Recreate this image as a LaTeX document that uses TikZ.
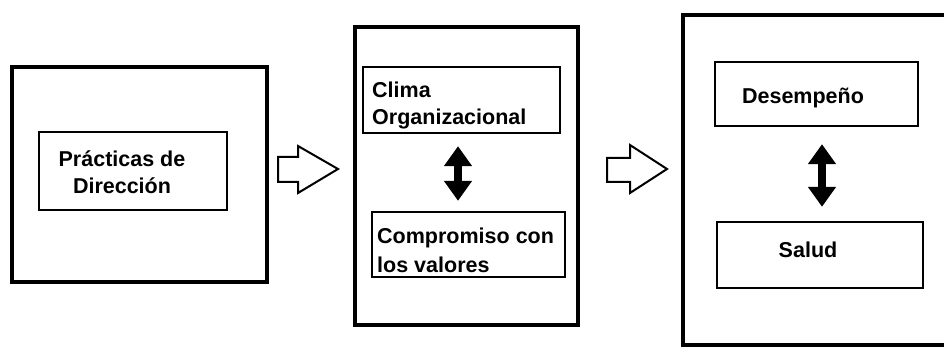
\documentclass[tikz,border=0pt]{standalone}
\usepackage{fontspec}
\setmainfont{Liberation Sans}
\usetikzlibrary{arrows.meta}
\tikzset{
  outerbox/.style={draw=black, line width=3.6pt, inner sep=0pt},
  innerbox/.style={draw=black, line width=2.4pt, inner sep=0pt},
  lbl/.style={font=\bfseries\fontsize{21.5}{27}\selectfont, inner sep=0pt, text=black},
  hollow/.style={draw=black, line width=2pt, fill=white, line join=miter},
  dbl/.style={line width=8pt, {Triangle[width=27pt,length=20pt]}-{Triangle[width=27pt,length=20pt]}}
}
\begin{document}
\begin{tikzpicture}[x=1pt,y=-1pt]
\useasboundingbox (0,0) rectangle (944,347);
\clip (0,0) rectangle (944,347);
\fill[white] (0,0) rectangle (944,347);

% Box 1
\node[outerbox, minimum width=255pt, minimum height=215pt] (b1) at (139.5,174.5) {};
\node[innerbox, minimum width=188pt, minimum height=78pt] (pd) at (133,171) {};
\node[lbl, align=center] (pdt) at (122,172) {Prácticas de\\Dirección};

% Arrow 1
\draw[hollow] (278,157) -- (298,157) -- (298,146) -- (338,169) -- (298,193) -- (298,182) -- (278,182) -- cycle;

% Box 2
\node[outerbox, minimum width=223pt, minimum height=298pt] (b2) at (466.5,176) {};
\node[innerbox, minimum width=197pt, minimum height=66pt] (cl) at (461.5,100) {};
\node[lbl, align=left, anchor=west] (clt) at (372,105) {Clima\\Organizacional};
\node[innerbox, minimum width=193pt, minimum height=65pt] (cv) at (468.5,244.5) {};
\node[lbl, align=left, anchor=west, font=\bfseries\fontsize{21.5}{29}\selectfont] (cvt) at (377,250) {Compromiso con\\los valores};
\coordinate (ax1) at (458,0);
\draw[dbl, shorten <=12pt, shorten >=10pt] (cl.south -| ax1) -- (cv.north -| ax1);

% Arrow 2
\draw[hollow] (607,158) -- (630,158) -- (630,145) -- (667,169) -- (630,193) -- (630,182) -- (607,182) -- cycle;

% Box 3
\node[outerbox, minimum width=280pt, minimum height=330pt] (b3) at (823,180) {};
\node[innerbox, minimum width=203pt, minimum height=64pt] (de) at (816.5,94) {};
\node[lbl] (det) at (803,98) {Desempeño};
\node[innerbox, minimum width=206pt, minimum height=66pt] (sa) at (820,255) {};
\node[lbl] (sat) at (808,250) {Salud};
\coordinate (ax2) at (822,0);
\draw[dbl, shorten <=17pt, shorten >=14pt] (de.south -| ax2) -- (sa.north -| ax2);
\end{tikzpicture}
\end{document}
